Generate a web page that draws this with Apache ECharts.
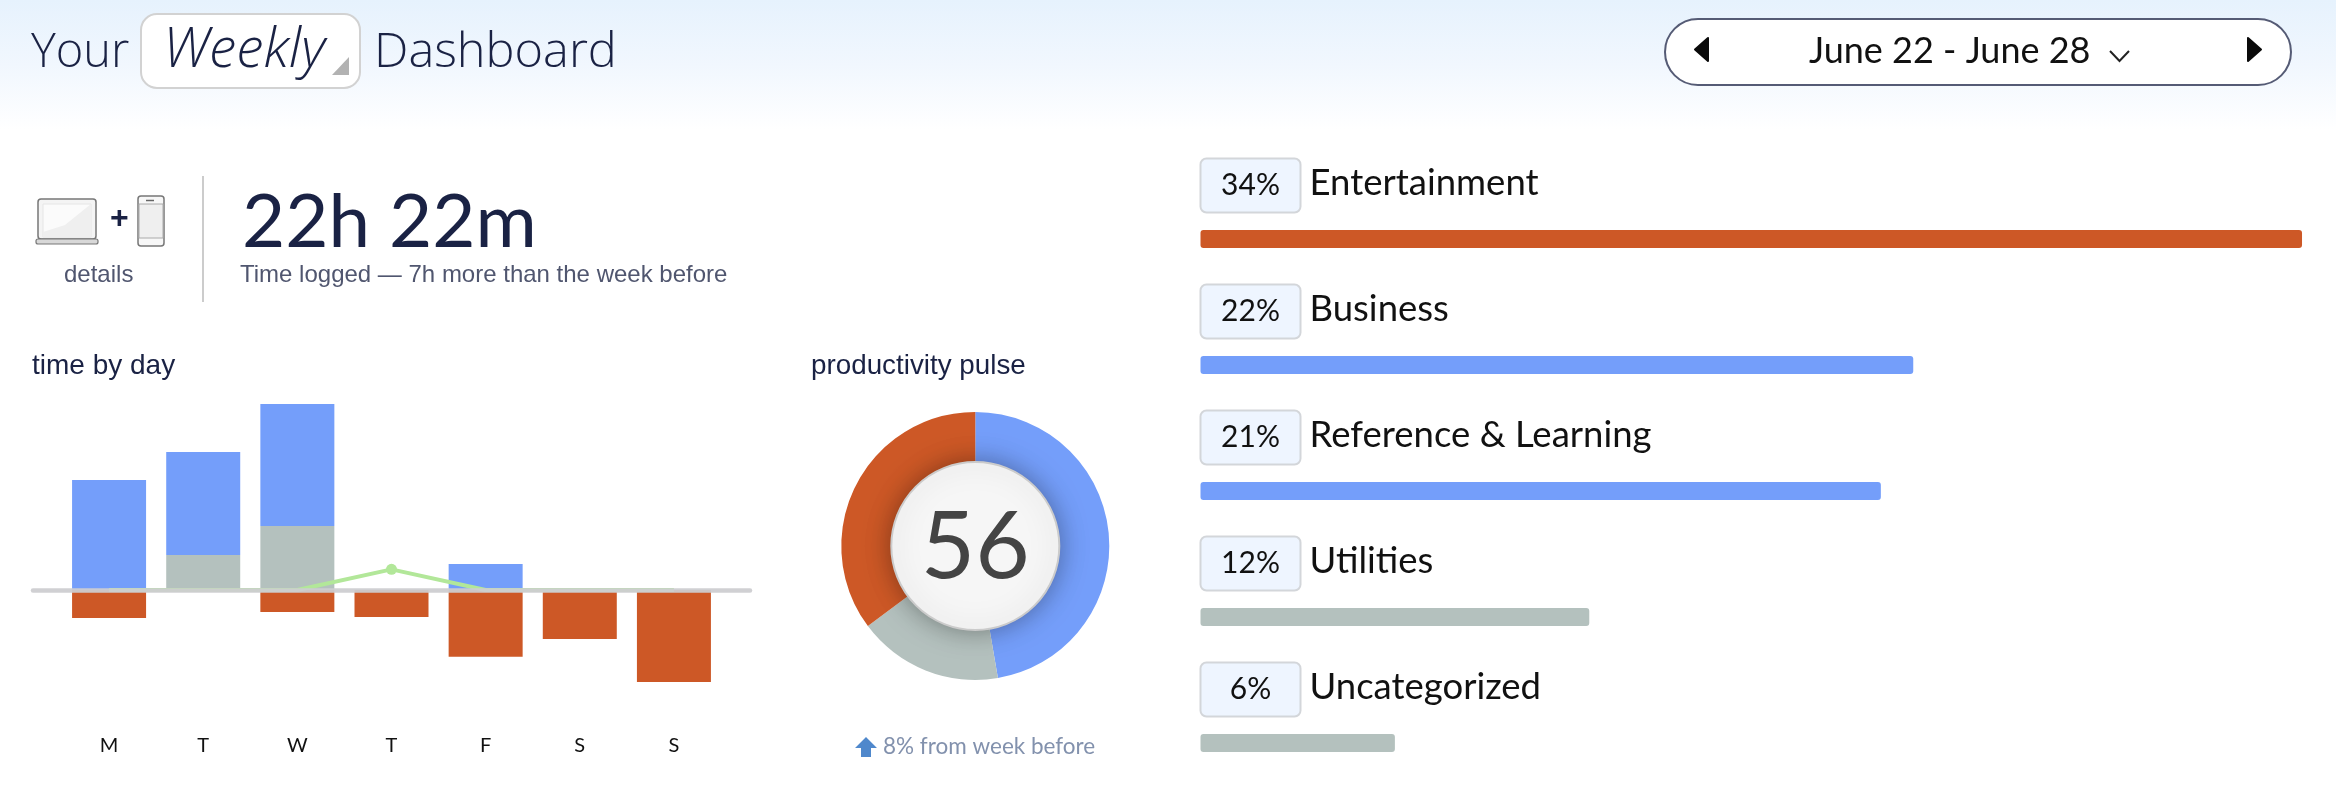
<!DOCTYPE html>
<html>
<head>
<meta charset="utf-8">
<style>html,body{margin:0;padding:0;background:#fff}#chart{width:2336px;height:788px}</style>
<script src="https://cdn.jsdelivr.net/npm/echarts@6/dist/echarts.min.js"></script>
</head>
<body>
<div id="chart"></div>
<script>
// Hours logged per day, stacked above or below the zero line
const days = ['M', 'T', 'W', 'T', 'F', 'S', 'S'];
const neutralHours = [0, 1.05, 1.92, 0, 0, 0, 0];
const productiveHours = [3.3, 3.09, 3.66, 0, 0.78, 0, 0];
const distractingHours = [-0.84, 0, -0.66, -0.81, -2.0, -1.47, -2.76];
const mobileHours = [0, 0, 0, 0.62, 0, 0, 0];

// Productivity pulse ring
const pulseShares = [47.3, 17.5, 35.2];
const pulseScore = '56';

// Category ranking
const categoryNames = ['Entertainment', 'Business', 'Reference & Learning', 'Utilities', 'Uncategorized'];
const categoryPercents = [34, 22, 21, 12, 6];

const BLUE = '#749efa', ORANGE = '#cd5826', GREY = '#b4c1be', GREEN = '#b2e799';
const NAVY = '#1a2244', SLATE = '#50566f';
const ROUNDED = 'Lato, "Noto Sans", sans-serif';
const HEADING = '"Open Sans", Lato, sans-serif';
const PLAIN = '"Liberation Sans", Arial, sans-serif';
const categoryColors = [ORANGE, BLUE, BLUE, GREY, GREY];

// x is the left edge of the text, baseline the line its letters sit on
function label(x, baseline, text, fontSize, fill, fontFamily, extra) {
  return {
    type: 'text', x, y: baseline - 0.36 * fontSize, z: 10,
    style: Object.assign({ text, fontSize, fill, fontFamily, verticalAlign: 'middle' }, extra || {})
  };
}
function shape(type, shapeDef, style, z) {
  return { type, shape: shapeDef, style, z: z || 5 };
}

const headerGraphics = [
  { type: 'rect', shape: { x: 0, y: 0, width: 2336, height: 130 }, z: -10,
    style: { fill: { type: 'linear', x: 0, y: 0, x2: 0, y2: 1, colorStops: [
      { offset: 0, color: '#e6f2fd' }, { offset: 0.5, color: '#f1f7fe' }, { offset: 1, color: '#ffffff' }
    ] } } },
  label(31, 71, 'Your', 47, NAVY, HEADING, { fontWeight: 300 }),
  shape('rect', { x: 141, y: 14, width: 219, height: 74, r: 16 }, { fill: '#fff', stroke: '#d2d2d2', lineWidth: 2 }),
  label(163, 71, 'Weekly', 55, NAVY, HEADING, { fontWeight: 300, fontStyle: 'italic' }),
  shape('polygon', { points: [[349, 57], [349, 75], [332, 75]] }, { fill: '#b2b2b2' }),
  label(374, 71, 'Dashboard', 48.7, NAVY, HEADING, { fontWeight: 300 }),
  shape('rect', { x: 1665, y: 19, width: 626, height: 66, r: 33 }, { fill: '#fff', stroke: '#555b75', lineWidth: 2 }),
  label(1809, 64, 'June 22 - June 28', 36, '#111', ROUNDED),
  shape('polyline', { points: [[2110, 51], [2119.5, 61], [2129, 51]] }, { stroke: '#222', lineWidth: 2, fill: null }),
  shape('polygon', { points: [[1708, 38], [1708, 61], [1695, 49.5]] }, { fill: '#0a0a0a', stroke: '#0a0a0a', lineWidth: 2, lineJoin: 'round' }),
  shape('polygon', { points: [[2248, 38], [2248, 61], [2261, 49.5]] }, { fill: '#0a0a0a', stroke: '#0a0a0a', lineWidth: 2, lineJoin: 'round' })
];

const summaryGraphics = [
  // Laptop
  shape('rect', { x: 38, y: 199, width: 58, height: 40, r: 3 }, { fill: '#f4f4f4', stroke: '#777', lineWidth: 1.5 }),
  shape('rect', { x: 43, y: 204, width: 48, height: 33 }, { fill: '#fbfbfb', stroke: '#e6e6e6', lineWidth: 1 }),
  shape('polygon', { points: [[43, 237], [43, 232], [65, 225], [91, 204], [91, 237]] }, { fill: '#efefef' }),
  shape('rect', { x: 36, y: 239, width: 62, height: 5, r: 2 }, { fill: '#d8d8d8', stroke: '#777', lineWidth: 1.2 }),
  // Plus sign
  label(110, 231, '+', 32, NAVY, PLAIN, { fontWeight: 'bold' }),
  // Phone
  shape('rect', { x: 138, y: 196, width: 26, height: 50, r: 3 }, { fill: '#f7f7f7', stroke: '#777', lineWidth: 1.5 }),
  shape('rect', { x: 139, y: 204, width: 24, height: 34 }, { fill: '#efefef', stroke: '#aaa', lineWidth: 1 }),
  shape('line', { x1: 146, y1: 200.5, x2: 154, y2: 200.5 }, { stroke: '#666', lineWidth: 1.5 }),
  label(64, 284, 'details', 24, SLATE, PLAIN),
  shape('line', { x1: 203, y1: 176, x2: 203, y2: 302 }, { stroke: '#cccccc', lineWidth: 2 }),
  label(242, 250, '22h 22m', 74.5, NAVY, ROUNDED),
  label(240, 284, 'Time logged — 7h more than the week before', 24, SLATE, PLAIN),
  label(32, 376, 'time by day', 28, NAVY, PLAIN),
  label(811, 376, 'productivity pulse', 27.8, NAVY, PLAIN),
  shape('polygon', { points: [[866, 737], [877, 748], [871, 748], [871, 757], [861, 757], [861, 748], [855, 748]] }, { fill: '#4f88cc' }),
  label(883, 755, '8% from week before', 22.5, '#8291ad', ROUNDED)
];

const chart = echarts.init(document.getElementById('chart'));
chart.setOption({
  animation: false,
  backgroundColor: '#fff',
  graphic: { elements: headerGraphics.concat(summaryGraphics) },
  grid: [
    { left: 62, width: 659, top: 390, height: 300, outerBoundsMode: 'none' },
    { left: 33, width: 717, top: 390, height: 300, outerBoundsMode: 'none' },
    { left: 1200.5, width: 1108, top: 176, height: 630, outerBoundsMode: 'none' }
  ],
  xAxis: [
    { type: 'category', gridIndex: 0, data: days,
      axisLine: { show: false }, axisTick: { show: false },
      axisLabel: { color: '#111', fontSize: 20, fontFamily: ROUNDED, margin: 46 } },
    // The zero line runs wider than the bars, so it has an axis of its own
    { type: 'value', gridIndex: 1, min: 0, max: 1, z: 5,
      axisLine: { show: true, onZero: true, lineStyle: { color: 'rgba(205,205,208,0.94)', width: 4.5 } },
      axisTick: { show: false }, axisLabel: { show: false }, splitLine: { show: false } },
    { type: 'value', gridIndex: 2, min: 0, max: 34.2, show: false, splitLine: { show: false } }
  ],
  yAxis: [
    { type: 'value', gridIndex: 0, min: -3, max: 6, interval: 3, show: false, splitLine: { show: false } },
    { type: 'value', gridIndex: 1, min: -3, max: 6, interval: 3, show: false, splitLine: { show: false } },
    { type: 'category', gridIndex: 2, data: categoryNames, inverse: true, show: false }
  ],
  series: [
    { type: 'bar', name: 'Neutral', xAxisIndex: 0, yAxisIndex: 0, stack: 'day', barWidth: 74, data: neutralHours, itemStyle: { color: GREY } },
    { type: 'bar', name: 'Productive', xAxisIndex: 0, yAxisIndex: 0, stack: 'day', barWidth: 74, data: productiveHours, itemStyle: { color: BLUE } },
    { type: 'bar', name: 'Distracting', xAxisIndex: 0, yAxisIndex: 0, stack: 'day', barWidth: 74, data: distractingHours, itemStyle: { color: ORANGE } },
    { type: 'line', name: 'Mobile', xAxisIndex: 0, yAxisIndex: 0, z: 4, data: mobileHours,
      lineStyle: { color: GREEN, width: 4 }, itemStyle: { color: GREEN },
      symbol: 'circle', symbolSize: v => (v > 0 ? 11 : 0) },
    { type: 'pie', name: 'Pulse', center: [975.3, 546], radius: [60, 134], startAngle: 90, z: 2, silent: true,
      label: { show: false }, labelLine: { show: false },
      data: [
        { value: pulseShares[0], itemStyle: { color: BLUE } },
        { value: pulseShares[1], itemStyle: { color: GREY } },
        { value: pulseShares[2], itemStyle: { color: ORANGE } }
      ] },
    { type: 'pie', name: 'Score', center: [975.3, 546], radius: [0, 84], z: 3, silent: true,
      labelLine: { show: false },
      label: { show: true, position: 'center', offset: [0, 2], formatter: pulseScore, fontSize: 94, color: '#444', fontFamily: ROUNDED },
      itemStyle: { color: '#f6f6f6', borderColor: '#cbcbcb', borderWidth: 2, shadowBlur: 26, shadowColor: 'rgba(0,0,0,0.35)' },
      data: [{ value: 1 }] },
    { type: 'bar', name: 'Share', xAxisIndex: 2, yAxisIndex: 2, barWidth: 18,
      data: categoryPercents.map((v, i) => ({
        value: v,
        itemStyle: { color: categoryColors[i], borderRadius: 3 }
      })),
      label: {
        show: true, position: [1, -70.5],
        formatter: p => `{badge|${p.value}%}{name|${p.name}}`,
        rich: {
          badge: { width: 98, height: 52, align: 'center', verticalAlign: 'middle', backgroundColor: '#eef5ff',
            borderColor: '#d3d6da', borderWidth: 2, borderRadius: 5, fontSize: 30, color: '#111', fontFamily: ROUNDED },
          name: { fontSize: 36.5, color: '#111', fontFamily: ROUNDED, padding: [0, 0, 4, 10], verticalAlign: 'middle' }
        }
      } }
  ]
});
</script>
</body>
</html>
